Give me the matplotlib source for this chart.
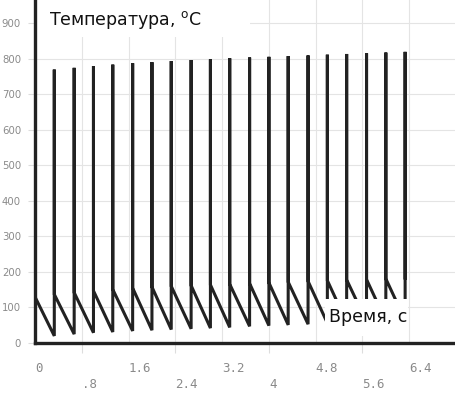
import matplotlib
matplotlib.use("Agg")
import matplotlib.pyplot as plt
from matplotlib.patches import Rectangle

# ---- data ----
start_value = 130
spike_times = [0.33, 0.67, 1.0, 1.33, 1.67, 2.0, 2.33, 2.67, 3.0, 3.33,
               3.67, 4.0, 4.33, 4.67, 5.0, 5.33, 5.67, 6.0, 6.33]
lows = [20, 25, 29, 31, 34, 36, 38, 40, 42, 44,
        47, 49, 51, 53, 56, 58, 60, 62, 64]
peaks = [770, 775, 780, 784, 788, 791, 794, 797, 799, 802,
         804, 806, 808, 810, 812, 814, 816, 818, 820]
restarts = [137, 142, 147, 151, 155, 158, 160, 162, 164, 166,
            168, 170, 172, 174, 176, 178, 179, 181, 183]

y_ticks = [0, 100, 200, 300, 400, 500, 600, 700, 800, 900]
x_major = [0, 1.6, 3.2, 4.8, 6.4]
x_major_labels = ["0", "1.6", "3.2", "4.8", "6.4"]
x_minor = [0.8, 2.4, 4.0, 5.6]
x_minor_labels = [".8", "2.4", "4", "5.6"]

title_text = "Температура, $^{\\mathregular{o}}$C"
xlabel_text = "Время, с"

# ---- build path ----
xs = [0.0]
ys = [start_value]
for t, lo, pk, rs in zip(spike_times, lows, peaks, restarts):
    xs += [t, t, t]
    ys += [lo, pk, rs]

W, H = 456, 393
fig = plt.figure(figsize=(W / 100, H / 100), dpi=100)
ax_l, ax_r, ax_t, ax_b = 35, 456, 0, 343
ax = fig.add_axes([ax_l / W, (H - ax_b) / H, (ax_r - ax_l) / W, (ax_b - ax_t) / H])

ax.set_xlim(0, 7.2)
ax.set_ylim(0, 966)

ax.plot(xs, ys, color="#222222", lw=2.2, solid_joinstyle="miter", zorder=2)

# grid
ax.set_yticks(y_ticks)
ax.set_xticks(x_major)
ax.set_xticks(x_minor, minor=True)
for v in y_ticks[1:]:
    ax.axhline(v, color="#e4e4e4", lw=0.8, zorder=0)
for v in x_major[1:] + x_minor:
    ax.axvline(v, color="#e4e4e4", lw=0.8, zorder=0)

ax.set_yticklabels([str(v) for v in y_ticks], fontsize=7.3, color="#8a8a8a")
ax.set_xticklabels(x_major_labels, fontsize=9, color="#8a8a8a",
                   family="DejaVu Sans Mono", ha="left")
ax.set_xticklabels(x_minor_labels, minor=True, fontsize=9, color="#8a8a8a",
                   family="DejaVu Sans Mono", ha="left")
ax.tick_params(axis="y", length=5, width=0.8, color="#dddddd", pad=5)
ax.tick_params(axis="x", which="major", length=0, pad=13.5)
ax.tick_params(axis="x", which="minor", length=7, width=0.8, color="#dddddd", pad=18)

for s in ["top", "right"]:
    ax.spines[s].set_visible(False)
for s in ["left", "bottom"]:
    ax.spines[s].set_color("#222222")
    ax.spines[s].set_linewidth(2.4)
    ax.spines[s].set_zorder(5)
ax.set_facecolor("white")

def fx(px):
    return (px - ax_l) / (ax_r - ax_l)

def fy(py):
    return (ax_b - py) / (ax_b - ax_t)

# title box (top-left)
ax.add_patch(Rectangle((fx(36), fy(37)), fx(250) - fx(36), fy(0) - fy(37),
                       transform=ax.transAxes, facecolor="white",
                       edgecolor="none", zorder=3, clip_on=False))
ax.text(fx(49), fy(25), title_text, transform=ax.transAxes, fontsize=12.5,
        color="#111111", ha="left", va="baseline", zorder=4)

# x label box
ax.add_patch(Rectangle((fx(325), fy(336)), fx(408) - fx(325), fy(299) - fy(336),
                       transform=ax.transAxes, facecolor="white",
                       edgecolor="none", zorder=3, clip_on=False))
ax.text(fx(329), fy(322.5), xlabel_text, transform=ax.transAxes, fontsize=12.5,
        color="#111111", ha="left", va="baseline", zorder=4)

fig.savefig("out.png", dpi=100)
